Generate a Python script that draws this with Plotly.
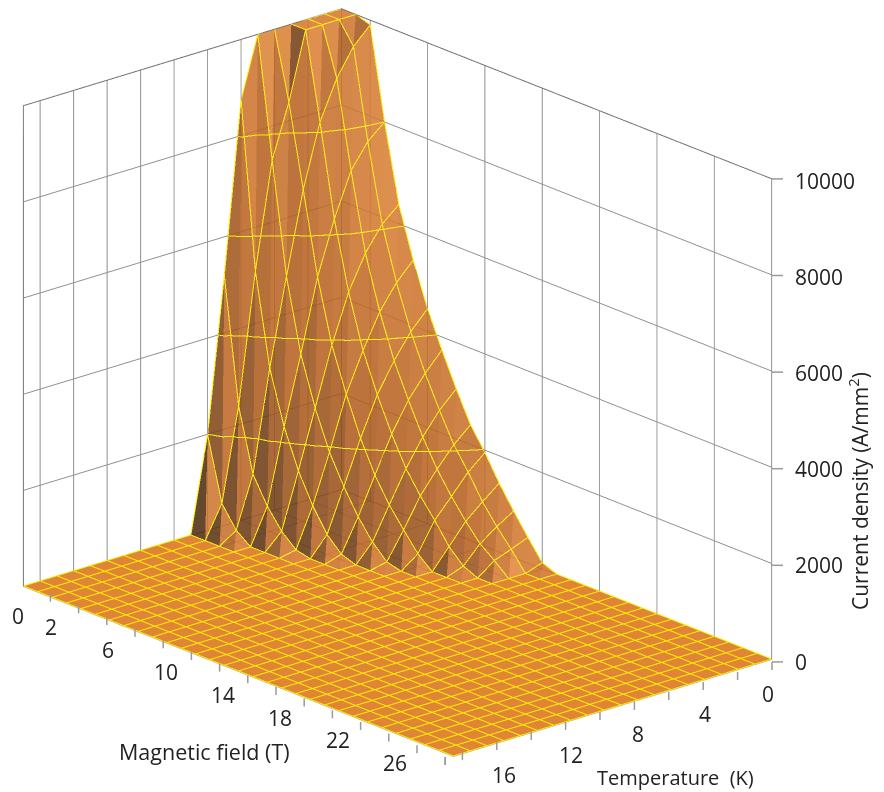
import numpy as np
import plotly.graph_objects as go

temperature = list(range(20))
field = list(range(31))
# current density: one row per temperature, one value per field step
J_rows = [
    [10000,10000,9900,8000,6400,5360,4470,3730,3040,2410,1950,1430,970,540,130],
    [10000,10000,9560,7700,6100,5000,4100,3350,2700,2100,1650,1150,750,400,0],
    [10000,10000,9000,7200,5600,4500,3600,2900,2250,1700,1250,850,500,270,0],
    [10000,10000,8200,6300,4900,3800,3000,2300,1700,1250,860,430,145,0,0],
    [10000,8600,6900,5200,3900,3000,2200,1550,1050,650,270,0,0,0,0],
    [10000,7500,5200,3700,2700,1900,1300,790,385,90,0,0,0,0,0],
    [8740,5300,3400,2300,1500,890,410,120,0,0,0,0,0,0,0],
    [5200,2600,1300,755,350,80,0,0,0,0,0,0,0,0,0],
    [2000,680,240,0,0,0,0,0,0,0,0,0,0,0,0],
]
z_ticks = [0,2000,4000,6000,8000,10000]
z_bands = [2000,4000,6000,8000]
t_grid = [0,2,4,6,8,10,12,14,16,18,19]
b_grid = [0,2,6,10,14,18,22,26,30]
t_labels = [0,4,8,12,16]
b_labels = [0,2,6,10,14,18,22,26]
t_minor = [0,2,4,6,8,10,12,14,16,18,19]
b_minor = [2,4,6,8,10,12,14,16,18,20,22,24,26,28,30]

T = np.array(temperature, float)
B = np.array(field, float)
J = np.zeros((len(T), len(B)))
for i, row in enumerate(J_rows):
    J[i, :len(row)] = row

W, H = 876, 784
AX, AY, AZ = 1.080, 1.663, 1.308
nT, nB = len(T), len(B)
X, Y = np.meshgrid(T, B, indexing='ij')
vx, vy, vz = X.ravel(), Y.ravel(), J.ravel()
P = np.c_[vx/19*AX, vy/30*AY, vz/10000*AZ]

def mix(a, b, t):
    return tuple(a[k]+(b[k]-a[k])*t for k in range(3))
DARK, MID, BRIGHT, FLAT = (72,40,12), (178,92,28), (255,160,70), (216,116,38)
def face_colour(tri):
    p = P[list(tri)]
    n = np.cross(p[1]-p[0], p[2]-p[0])
    n = n/np.linalg.norm(n)
    if n[2] < 0: n = -n
    h = vz[list(tri)].mean()/10000
    s = .5 + (n[1]-n[0])/2
    if s < .5:
        c = mix(MID, DARK, (1-s/.5)*(1-.4*h))
    else:
        c = mix(MID, BRIGHT, ((s-.5)/.5)**1.2*(1-.5*h))
    c = mix(c, FLAT, min(1, n[2]**6))
    return 'rgb(%d,%d,%d)' % c

tris_floor, tris_up, cols_up = [], [], []
for i in range(nT-1):
    for j in range(nB-1):
        a, b, c, d = i*nB+j, i*nB+j+1, (i+1)*nB+j, (i+1)*nB+j+1
        for tri in ((a, b, d), (a, d, c)):
            if vz[list(tri)].max() == 0:
                tris_floor.append(tri)
            else:
                tris_up.append(tri); cols_up.append(face_colour(tri))
tf, tu = np.array(tris_floor), np.array(tris_up)
light = dict(ambient=1, diffuse=0, specular=0, roughness=1, fresnel=0)

fig = go.Figure()
fig.add_trace(go.Mesh3d(x=vx, y=vy, z=vz, i=tf[:,0], j=tf[:,1], k=tf[:,2], color='rgb(224,133,53)',
                        flatshading=True, lighting=light, hoverinfo='skip', showscale=False))
fig.add_trace(go.Mesh3d(x=vx, y=vy, z=vz, i=tu[:,0], j=tu[:,1], k=tu[:,2], facecolor=cols_up, opacity=0.86,
                        flatshading=True, lighting=light, hoverinfo='skip', showscale=False))
yellow = '#FFEE00'
# grid lines of the sheet, lifted a hair off the floor so they stay on top
Jl = np.where(J == 0, 12, J)
lx, ly, lz = [], [], []
for i in range(nT):
    lx += list(T[i]*np.ones(nB)) + [None]; ly += list(B) + [None]; lz += list(Jl[i]) + [None]
for j in range(nB):
    lx += list(T) + [None]; ly += list(B[j]*np.ones(nT)) + [None]; lz += list(Jl[:,j]) + [None]
# band borders on the sheet, found on each triangle
for lev in z_bands:
    for tri in tris_up:
        pts = []
        for u, v in ((tri[0],tri[1]),(tri[1],tri[2]),(tri[2],tri[0])):
            if (vz[u]-lev-.5)*(vz[v]-lev-.5) < 0:
                f = (lev+.5-vz[u])/(vz[v]-vz[u])
                pts.append((vx[u]+f*(vx[v]-vx[u]), vy[u]+f*(vy[v]-vy[u])))
        if len(pts) == 2:
            lx += [pts[0][0], pts[1][0], None]; ly += [pts[0][1], pts[1][1], None]; lz += [lev, lev, None]
fig.add_trace(go.Scatter3d(x=lx, y=ly, z=lz, mode='lines', line=dict(color=yellow, width=2), hoverinfo='skip'))
# darker outline of the back walls
Tmax, Bmax, Zmax = T[-1], B[-1], z_ticks[-1]
fig.add_trace(go.Scatter3d(x=[Tmax,Tmax,0,0], y=[0,0,0,Bmax], z=[0,Zmax,Zmax,Zmax], mode='lines',
                           line=dict(color='#5a5a5a', width=2), hoverinfo='skip'))

# the page sits 8 px inside the window; sx/sy give window pixels of a point on the chart box
OFF = 8
def sx(t, b): return 349 - 17.2*t + 14.1*b
def sy(t, b, z=0): return 487 + 5.0*t + 5.83*b - 0.0483*z
def px(x): return (x-OFF)/W
def py(y): return 1-(y-OFF)/H
def seg(x0, y0, x1, y1):
    return dict(type='line', xref='paper', yref='paper', x0=px(x0), x1=px(x1), y0=py(y0), y1=py(y1),
                line=dict(color='#9a9a9a', width=1.5))
shapes = []
for b in b_minor:
    shapes.append(seg(sx(19,b), sy(19,b), sx(19,b), sy(19,b)+8))
for t in t_minor:
    shapes.append(seg(sx(t,30), sy(t,30), sx(t,30), sy(t,30)+8))
for z in z_ticks:
    shapes.append(seg(772, sy(0,30,z), 783, sy(0,30,z)))

TXT = '#222'
FONT = dict(family='Open Sans', size=21, color=TXT)
ann3d = []
for b in b_labels:
    ann3d.append(dict(x=19, y=b, z=0, text=str(b), showarrow=False, font=FONT, xshift=-1 if b else -5, yshift=-29))
for t in t_labels:
    ann3d.append(dict(x=t, y=30, z=0, text=str(t), showarrow=False, font=FONT, xshift=0 if t else -4, yshift=-34))
for z in z_ticks:
    ann3d.append(dict(x=0, y=30, z=z, text=str(z), showarrow=False, font=FONT, xanchor='left', xshift=21, yshift=-2))

axis = dict(showbackground=False, showspikes=False, gridcolor='#8f8f8f', gridwidth=2, showline=False,
            ticks='', showticklabels=False, title=dict(text=''), zeroline=False)
D = np.array([.619,.705,.347]); R = 2.5
C = np.array([-.0845,.0912,-.0425])
E = C + D*R
fig.update_layout(
    width=W, height=H, margin=dict(l=0,r=0,t=0,b=0), paper_bgcolor='white', showlegend=False, shapes=shapes,
    scene=dict(
        domain=dict(x=[0,1], y=[0,1]),
        xaxis=dict(axis, range=[0,19], tickmode='array', tickvals=t_grid),
        yaxis=dict(axis, range=[0,30], tickmode='array', tickvals=b_grid),
        zaxis=dict(axis, range=[0,10000], tickmode='array', tickvals=z_ticks),
        aspectmode='manual', aspectratio=dict(x=AX, y=AY, z=AZ),
        annotations=ann3d,
        camera=dict(projection=dict(type='orthographic'), eye=dict(x=E[0],y=E[1],z=E[2]), center=dict(x=C[0],y=C[1],z=C[2]), up=dict(x=0,y=0,z=1)),
    ),
    annotations=[
        dict(text='Magnetic field (T)', x=px(204), y=py(751), xref='paper', yref='paper', xanchor='center', yanchor='middle', showarrow=False,
             font=dict(family='Open Sans', size=21.5, color=TXT)),
        dict(text='Temperature\u00a0 (K)', x=px(675), y=py(777), xref='paper', yref='paper', xanchor='center', yanchor='middle', showarrow=False,
             font=dict(family='Open Sans', size=20, color=TXT)),
        dict(text='Current density (A/mm<sup>2</sup>)', x=px(858), y=py(491), xref='paper', yref='paper', xanchor='center', yanchor='middle', textangle=-90, showarrow=False,
             font=dict(family='Open Sans', size=21, color=TXT)),
    ],
)
fig.write_html('out.html')
